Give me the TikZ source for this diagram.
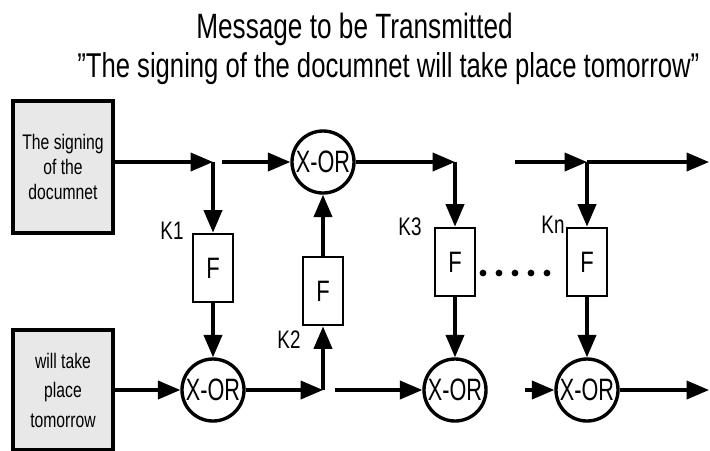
\documentclass[tikz,border=0pt]{standalone}
\usepackage{fontspec}
\setmainfont{Liberation Sans}[FakeStretch=0.745]
\newfontfamily\xorfont{Liberation Sans}[FakeStretch=0.7]
\usetikzlibrary{arrows.meta}

\begin{document}
\begin{tikzpicture}[x=0.025cm, y=-0.025cm, line width=2.3pt,
    msgbox/.style={draw, fill=black!9, line width=2.6pt, minimum width=2.5cm,
                   align=center, inner sep=0pt},
    fbox/.style={draw, line width=2pt, minimum width=1cm, minimum height=1.7cm,
                 inner sep=0pt, font=\fontsize{21}{21}\selectfont},
    xorgate/.style={draw, circle, line width=2.4pt, minimum size=1.55cm, inner sep=0pt,
                    font=\xorfont\fontsize{22}{22}\selectfont},
    klabel/.style={font=\fontsize{18}{18}\selectfont},
    flow/.style={-{Triangle[length=16pt, width=13pt]}}]
  \useasboundingbox (0,0) rectangle (710,450);

  \node[anchor=base west, font=\fontsize{25}{25}\selectfont] (title) at (190,38)
    {Message to be Transmitted};
  \node[anchor=base west, font=\fontsize{24.5}{24.5}\selectfont] (message) at (71,77)
    {\symbol{34}The signing of the documnet will take place tomorrow\symbol{34}};

  \node[msgbox, minimum height=3.3cm, font=\fontsize{15}{18}\selectfont] (msgA) at (63,167)
    {The signing\\of the\\documnet};
  \node[msgbox, minimum height=3cm, font=\fontsize{15}{21}\selectfont] (msgB) at (63,390)
    {will take\\place\\tomorrow};

  \foreach \n/\xf/\yf in {1/213/268, 2/323/291, 3/455/262, n/587/262}
    \node[fbox] (F\n) at (\xf,\yf) {F};
  \foreach \n/\xg/\yg in {1/213/390, 2/323/162, 3/455/390, n/587/390}
    \node[xorgate] (X\n) at (\xg,\yg) {X-OR};
  \foreach \n/\xk/\yk in {1/172/231, 2/289/340, 3/410/227, n/553/225}
    \node[klabel] (K\n) at (\xk,\yk) {K\n};

  \coordinate (b1) at (213,162);
  \coordinate (s2) at (222,162);
  \coordinate (b2) at (323,390);
  \coordinate (s3) at (335,390);
  \coordinate (b3) at (455,162);
  \coordinate (sn) at (515,162);
  \coordinate (bn) at (587,162);
  \coordinate (tn) at (525,390);
  \coordinate (endT) at (709,162);
  \coordinate (endB) at (709,390);

  \draw[flow] (msgA.east |- b1) -- (b1);
  \draw[flow] (b1) -- (F1.north);
  \draw[flow] (F1.south) -- (X1.north);
  \draw[flow] (msgB.east) -- (X1.west);
  \draw[flow] (X1.east) -- (b2);
  \draw[flow] (b2) -- (F2.south);
  \draw[flow] (F2.north) -- (X2.south);
  \draw[flow] (s2) -- (X2.west);
  \draw[flow] (X2.east) -- (b3);
  \draw[flow] (b3) -- (F3.north);
  \draw[flow] (F3.south) -- (X3.north);
  \draw[flow] (s3) -- (X3.west);
  \draw[flow] (sn) -- (bn);
  \draw[flow] (bn) -- (endT);
  \draw[flow] (bn) -- (Fn.north);
  \draw[flow] (Fn.south) -- (Xn.north);
  \draw[flow] (tn) -- (Xn.west);
  \draw[flow] (Xn.east) -- (endB);

  \foreach \d in {0,...,4}
    \fill (483+\d*16,273) circle (2.4pt);
\end{tikzpicture}
\end{document}
